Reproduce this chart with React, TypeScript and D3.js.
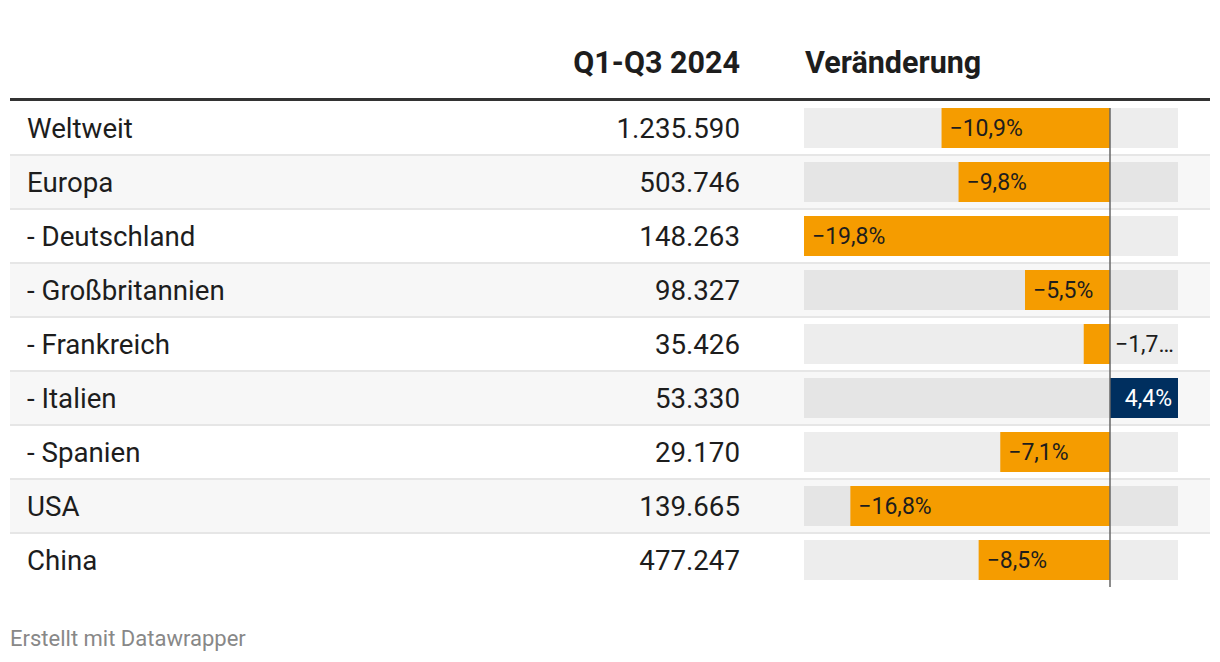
import React from "react";
import * as d3 from "d3";

const regions = ["Weltweit", "Europa", "- Deutschland", "- Großbritannien", "- Frankreich", "- Italien", "- Spanien", "USA", "China"];
const volumes = [1235590, 503746, 148263, 98327, 35426, 53330, 29170, 139665, 477247];
const changes = [-10.9, -9.8, -19.8, -5.5, -1.7, 4.4, -7.1, -16.8, -8.5];
const headers = ["Q1-Q3 2024", "Veränderung"];
const footer = "Erstellt mit Datawrapper";

const W = 1220, H = 662;
const FONT = "Roboto, 'Noto Sans', sans-serif";

export default function App() {
  const tableLeft = 10, tableRight = 1210;
  const headTop = 101;
  const rowH = 54;
  const barPad = 7;
  const x = d3.scaleLinear().domain([d3.min(changes)!, d3.max(changes)!]).range([804, 1178]);
  const y = d3.scaleBand<number>().domain(d3.range(regions.length)).range([headTop, headTop + rowH * regions.length]);
  const numFmt = d3.formatLocale({ decimal: ",", thousands: ".", grouping: [3], currency: ["", "€"], minus: "\u2212" });
  const fmtVol = numFmt.format(",d");
  const fmtPct = numFmt.format(".1f");
  const zero = x(0);

  return (
    <svg width={W} height={H} style={{ position: "absolute", left: 0, top: 0, fontFamily: FONT }}>
      <rect width={W} height={H} fill="#fff" />
      <text x={740} y={73} textAnchor="end" fontSize={30.5} fontWeight={700} fill="#1d1d1d">{headers[0]}</text>
      <text x={805} y={73} fontSize={30.5} fontWeight={700} fill="#1d1d1d">{headers[1]}</text>
      {regions.map((r, i) => {
        const top = y(i)!;
        const v = changes[i];
        const x0 = Math.min(x(v), zero), x1 = Math.max(x(v), zero);
        const barW = x1 - x0;
        const inside = barW > 60;
        let label = fmtPct(v) + "%";
        let lx: number, anchor: "start" | "end" = "start", fill = "#1d1d1d";
        if (v < 0) {
          if (inside) { lx = x0 + 8; }
          else { lx = zero + 5; label = fmtPct(v) + "…"; }
        } else {
          lx = x1 - 6; anchor = "end"; fill = "#fff";
        }
        return (
          <g key={r}>
            {i % 2 === 1 && <rect x={tableLeft} y={top} width={tableRight - tableLeft} height={rowH} fill="#f7f7f7" />}
            {i > 0 && <line x1={tableLeft} x2={tableRight} y1={top} y2={top} stroke="#e6e6e6" strokeWidth={2} />}
            <text x={27} y={top + 37} fontSize={27.7} fill="#1d1d1d">{r}</text>
            <text x={740} y={top + 37} fontSize={27.7} fill="#1d1d1d" textAnchor="end">{fmtVol(volumes[i])}</text>
            <rect x={x.range()[0]} y={top + barPad} width={x.range()[1] - x.range()[0]} height={rowH - 2 * barPad} fill="rgba(0,0,0,0.07)" />
            <rect x={x0} y={top + barPad} width={barW} height={rowH - 2 * barPad} fill={v < 0 ? "#f59c00" : "#002f5f"} />
            <text x={lx} y={top + 35} fontSize={23} fill={fill} textAnchor={anchor}>{label}</text>
          </g>
        );
      })}
      <line x1={tableLeft} x2={tableRight} y1={99.5} y2={99.5} stroke="#333" strokeWidth={3} />
      <line x1={zero} x2={zero} y1={headTop + barPad} y2={headTop + rowH * regions.length} stroke="#666" strokeWidth={1.5} />
      <text x={10} y={646} fontSize={22} fill="#888">{footer}</text>
    </svg>
  );
}
